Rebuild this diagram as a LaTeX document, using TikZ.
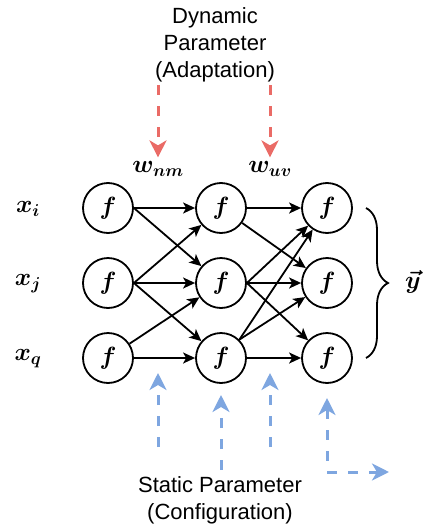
\documentclass[tikz,border=0pt]{standalone}
\usepackage{amsmath}
\usepackage{bm}
\usepackage{fontspec}
\setmainfont{Liberation Sans}
\usepackage{tikz}
\usetikzlibrary{positioning}
\usetikzlibrary{arrows.meta}
\usetikzlibrary{decorations.pathreplacing}
\definecolor{dynred}{HTML}{EA6B66}
\definecolor{statblue}{HTML}{7EA6E0}
\tikzset{
  bigtip/.tip={Stealth[length=17pt,width=17pt,inset=5pt]},
  smalltip/.tip={Stealth[length=12pt,width=11pt,inset=3pt]},
}
\begin{document}
\begin{tikzpicture}[x=1pt, y=-1pt, align=center,
    neuron/.style={draw, circle, line width=1.8pt, minimum size=50pt, inner sep=0pt, font=\fontsize{25}{28}\selectfont},
    mathlabel/.style={inner sep=4pt, font=\fontsize{26}{28}\selectfont},
    wire/.style={-smalltip, line width=1.8pt},
    dynarrow/.style={-bigtip, dynred, line width=3pt, dash pattern=on 10pt off 11pt},
    statarrow/.style={-bigtip, statblue, line width=3pt, dash pattern=on 10pt off 11pt},
    caption/.style={font=\fontsize{22}{27}\selectfont}]
        \useasboundingbox (0,0) rectangle (427,525);
        \node[neuron] (n1i) at (108,208) {$\bm{f}$};
        \node[neuron] (n1j) at (108,283) {$\bm{f}$};
        \node[neuron] (n1q) at (108,358) {$\bm{f}$};
        \node[neuron] (n2i) at (221,208) {$\bm{f}$};
        \node[neuron] (n2j) at (221,283) {$\bm{f}$};
        \node[neuron] (n2q) at (221,358) {$\bm{f}$};
        \node[neuron] (n3i) at (327,208) {$\bm{f}$};
        \node[neuron] (n3j) at (327,283) {$\bm{f}$};
        \node[neuron] (n3q) at (327,358) {$\bm{f}$};
        \node[mathlabel] (xi) at (28,209) {$\bm{x_i}$};
        \node[mathlabel] (xj) at (28,284) {$\bm{x_j}$};
        \node[mathlabel] (xq) at (28,359) {$\bm{x_q}$};
        \node[mathlabel] (wnm) at (158,169) {$\bm{w_{nm}}$};
        \node[mathlabel] (wuv) at (270,169) {$\bm{w_{uv}}$};
        \node[mathlabel] (yvec) at (413,282) {$\bm{\vec{y}}$};
        \node[caption] (dyn) at (215,45) {Dynamic\\Parameter\\(Adaptation)};
        \node[caption] (stat) at (220,500) {Static Parameter\\(Configuration)};
        \draw[wire] (n1i.east) -- (n2i);
        \draw[wire] (n1i.east) -- (n2j);
        \draw[wire] (n1j.east) -- (n2i);
        \draw[wire] (n1j.east) -- (n2j);
        \draw[wire] (n1j.east) -- (n2q);
        \draw[wire] (n1q) -- (n2j);
        \draw[wire] (n1q.east) -- (n2q);
        \draw[wire] (n2i.east) -- (n3i);
        \draw[wire] (n2i) -- (n3j);
        \draw[wire] (n2j.east) -- (n3i);
        \draw[wire] (n2j.east) -- (n3j);
        \draw[wire] (n2j.east) -- (n3q);
        \draw[wire] (n2q.45) -- (n3i);
        \draw[wire] (n2q.45) -- (n3j);
        \draw[wire] (n2q.east) -- (n3q);
        \coordinate (bracetop) at (366,208);
        \coordinate (bracebot) at (366,358);
        \draw[decorate, decoration={brace, amplitude=22pt}, line width=1.8pt] (bracetop) -- (bracebot);
        \coordinate (dynA) at (158,85);
        \coordinate (dynB) at (270,85);
        \draw[dynarrow] (dynA) -- (wnm);
        \draw[dynarrow] (dynB) -- (wuv);
        \coordinate (statA) at (158,447);
        \coordinate (tipA) at (158,373);
        \coordinate (statB) at (221,470);
        \coordinate (tipB) at (221,395);
        \coordinate (statC) at (270,447);
        \coordinate (tipC) at (270,373);
        \coordinate (tipD) at (327,398);
        \coordinate (tipE) at (389,472);
        \draw[statarrow] (statA) -- (tipA);
        \draw[statarrow] (statB) -- (tipB);
        \draw[statarrow] (statC) -- (tipC);
        \draw[statarrow, bigtip-bigtip] (tipD) |- (tipE);
    \end{tikzpicture}
\end{document}
